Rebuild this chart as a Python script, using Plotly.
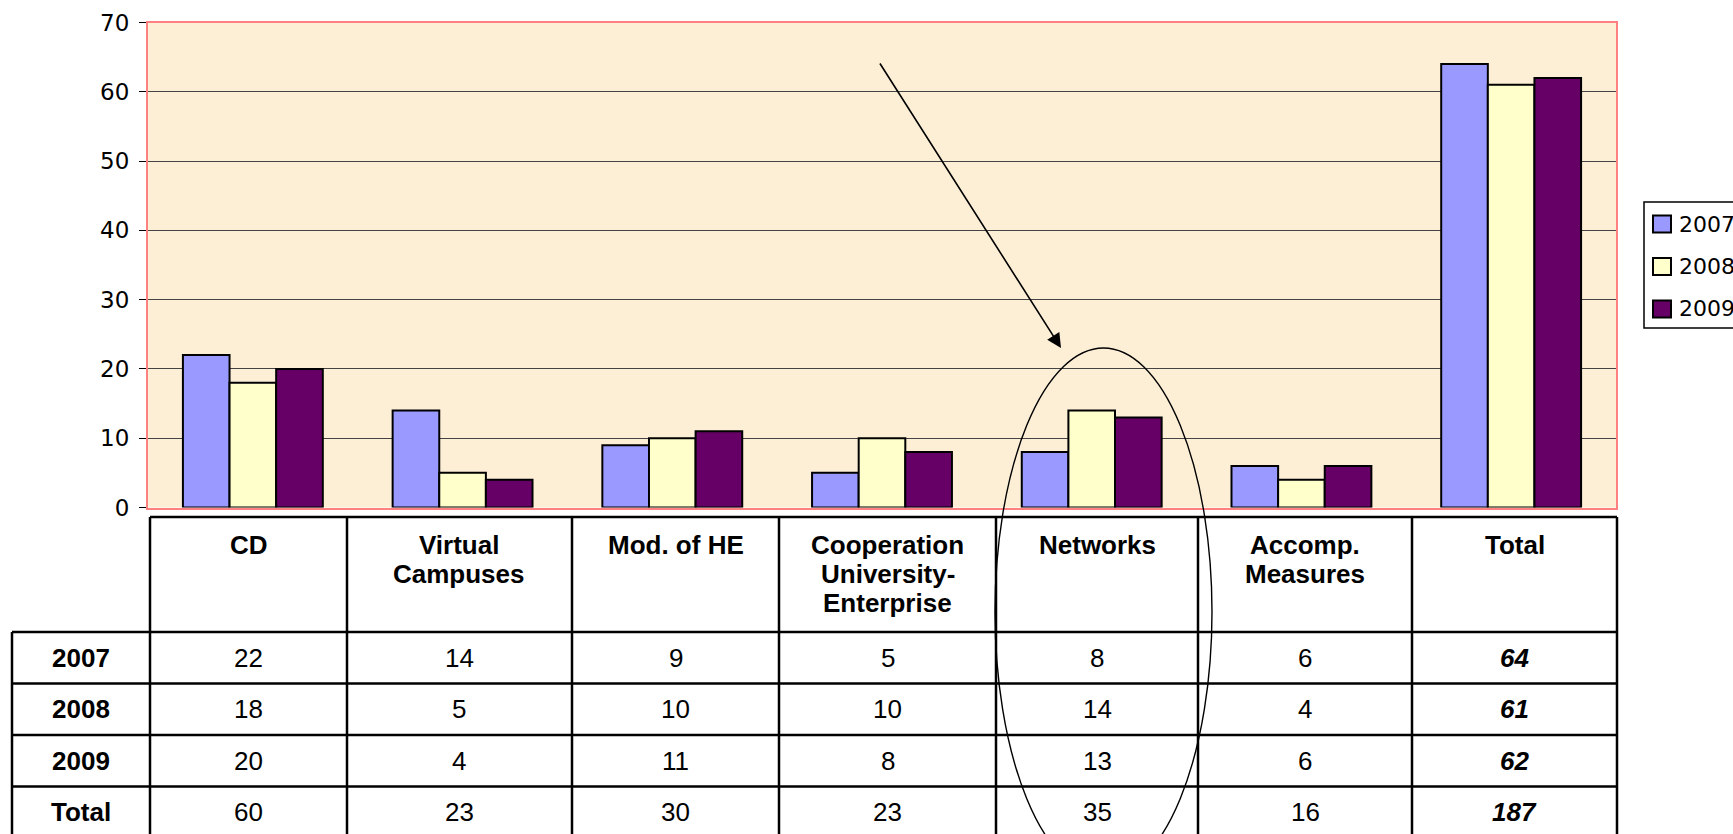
import plotly.graph_objects as go

# ---------------- data ----------------
categories = ["CD", "Virtual<br>Campuses", "Mod. of HE",
              "Cooperation<br>University-<br>Enterprise", "Networks",
              "Accomp.<br>Measures", "Total"]
years = ["2007", "2008", "2009"]
values_2007 = [22, 14, 9, 5, 8, 6, 64]
values_2008 = [18, 5, 10, 10, 14, 4, 61]
values_2009 = [20, 4, 11, 8, 13, 6, 62]
totals_row = [60, 23, 30, 23, 35, 16, 187]
row_labels = ["2007", "2008", "2009", "Total"]
y_ticks = [0, 10, 20, 30, 40, 50, 60, 70]

colors = ["#9999FF", "#FFFFCC", "#660066"]

# ---------------- geometry helpers ----------------
W, H = 1733, 834
def px(x):
    return x / W
def py(y):
    return 1 - y / H

PLOT_L, PLOT_R, PLOT_T, PLOT_B = 148, 1616, 22.5, 507.5
FONT = "Liberation Sans, Arial, sans-serif"
WIDE_FONT = "DejaVu Sans, Verdana, sans-serif"

fig = go.Figure()
series = [values_2007, values_2008, values_2009]
for name, vals, col in zip(years, series, colors):
    fig.add_trace(go.Bar(
        x=categories, y=vals, name=name,
        marker=dict(color=col, line=dict(color="black", width=2)),
        showlegend=False, hoverinfo="x+y+name",
    ))

shapes = []
annotations = []

# ---------------- table ----------------
col_edges = [150, 347, 572, 779, 996, 1198, 1412, 1617]
row_edges = [517, 632, 683.5, 735, 786.5, 838]
label_left = 12
LW = 2.5

def hline(x0, x1, y):
    shapes.append(dict(type="line", xref="paper", yref="paper",
                       x0=px(x0), x1=px(x1), y0=py(y), y1=py(y),
                       line=dict(color="black", width=LW)))

def vline(x, y0, y1):
    shapes.append(dict(type="line", xref="paper", yref="paper",
                       x0=px(x), x1=px(x), y0=py(y0), y1=py(y1),
                       line=dict(color="black", width=LW)))

hline(col_edges[0], col_edges[-1], row_edges[0])
for ry in row_edges[1:]:
    hline(label_left, col_edges[-1], ry)
for cx in col_edges:
    vline(cx, row_edges[0], row_edges[-1])
vline(label_left, row_edges[1], row_edges[-1])

# header text (one annotation per line for tight spacing)
HEADER_TOP = 528
LINE_GAP = 29
for i, cat in enumerate(categories):
    cxm = (col_edges[i] + col_edges[i + 1]) / 2
    for j, part in enumerate(cat.split("<br>")):
        annotations.append(dict(
            xref="paper", yref="paper", x=px(cxm), y=py(HEADER_TOP + j * LINE_GAP),
            text="<b>" + part + "</b>", showarrow=False,
            xanchor="center", yanchor="top",
            font=dict(family=FONT, size=26, color="black")))

table_rows = [values_2007, values_2008, values_2009, totals_row]
for r, (lab, vals) in enumerate(zip(row_labels, table_rows)):
    cy = (row_edges[r + 1] + row_edges[r + 2]) / 2
    annotations.append(dict(
        xref="paper", yref="paper", x=px((label_left + col_edges[0]) / 2), y=py(cy),
        text="<b>" + lab + "</b>", showarrow=False,
        xanchor="center", yanchor="middle",
        font=dict(family=FONT, size=26, color="black")))
    for i, v in enumerate(vals):
        cxm = (col_edges[i] + col_edges[i + 1]) / 2
        txt = str(v)
        if i == len(vals) - 1:
            txt = "<b><i>" + txt + "</i></b>"
        annotations.append(dict(
            xref="paper", yref="paper", x=px(cxm), y=py(cy),
            text=txt, showarrow=False, xanchor="center", yanchor="middle",
            font=dict(family=FONT, size=26, color="black")))

# ---------------- legend (drawn manually, runs off the right edge like the original) ----------------
shapes.append(dict(type="rect", xref="paper", yref="paper",
                   x0=px(1644), x1=px(1780), y0=py(328), y1=py(202),
                   line=dict(color="black", width=1.5), fillcolor="white"))
leg_y = [224, 266.5, 309]
for name, col, ly in zip(years, colors, leg_y):
    shapes.append(dict(type="rect", xref="paper", yref="paper",
                       x0=px(1653), x1=px(1671), y0=py(ly + 8.5), y1=py(ly - 8.5),
                       line=dict(color="black", width=2), fillcolor=col))
    annotations.append(dict(
        xref="paper", yref="paper", x=px(1677), y=py(ly),
        text=name, showarrow=False, xanchor="left", yanchor="middle",
        font=dict(family=WIDE_FONT, size=22, color="black")))

# ---------------- arrow and ellipse ----------------
annotations.append(dict(
    xref="paper", yref="paper", x=px(1061), y=py(348),
    ax=879 - 1061, ay=62 - 348, axref="pixel", ayref="pixel",
    text="", showarrow=True, arrowhead=2, arrowsize=1.8, arrowwidth=1.6,
    arrowcolor="black"))
shapes.append(dict(type="circle", xref="paper", yref="paper",
                   x0=px(995), x1=px(1212), y0=py(876), y1=py(348),
                   line=dict(color="black", width=1.4)))

fig.update_layout(
    width=W, height=H,
    margin=dict(l=0, r=0, t=0, b=0, autoexpand=False),
    paper_bgcolor="white",
    plot_bgcolor="#FCEFD6",
    barmode="group", bargap=0.333, bargroupgap=0,
    showlegend=False,
    shapes=shapes, annotations=annotations,
    xaxis=dict(domain=[px(PLOT_L), px(PLOT_R)], showticklabels=False,
               showgrid=False, zeroline=False, ticks="",
               showline=True, linecolor="#FF8080", linewidth=2, mirror=True,
               layer="below traces", fixedrange=True),
    yaxis=dict(domain=[py(PLOT_B), py(PLOT_T)], range=[0, 70],
               tickvals=y_ticks, ticktext=[str(t) for t in y_ticks],
               showgrid=True, gridcolor="#444444", gridwidth=1,
               zeroline=False,
               showline=True, linecolor="#FF8080", linewidth=2, mirror=True,
               layer="below traces",
               ticks="outside", ticklen=7, tickcolor="black", tickwidth=1,
               ticklabelstandoff=5,
               tickfont=dict(family=WIDE_FONT, size=23, color="black"),
               fixedrange=True),
    font=dict(family=FONT),
)

fig.write_html("out.html", config={"displayModeBar": False},
               post_script="document.body.style.margin='0';document.body.style.overflow='hidden';")
